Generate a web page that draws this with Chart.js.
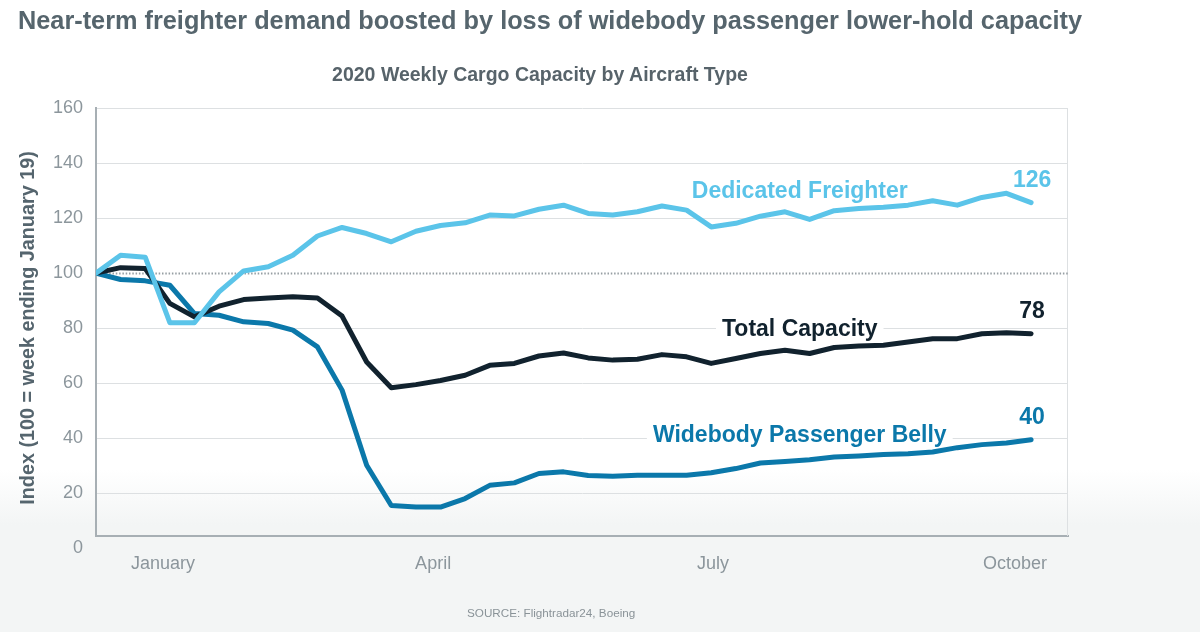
<!DOCTYPE html>
<html>
<head>
<meta charset="utf-8">
<title>2020 Weekly Cargo Capacity by Aircraft Type</title>
<script src="https://cdn.jsdelivr.net/npm/chart.js@4.4.1/dist/chart.umd.min.js"></script>
<style>
  html, body { margin: 0; padding: 0; }
  body {
    width: 1200px;
    height: 632px;
    overflow: hidden;
    font-family: "Liberation Sans", Arial, sans-serif;
    background: linear-gradient(to bottom, #ffffff 0px, #ffffff 470px, #f3f5f5 525px, #f3f5f5 632px);
  }
  #wrap { position: relative; width: 1200px; height: 632px; }
  #myChart { position: absolute; left: 0; top: 0; }
  .title {
    position: absolute; left: 18px; top: 8px;
    font-size: 25.3px; line-height: 25px; font-weight: bold;
    color: #56656d; white-space: nowrap;
  }
  .subtitle {
    position: absolute; left: 0; top: 64px; width: 1080px;
    text-align: center; font-size: 19.5px; line-height: 20px; font-weight: bold;
    color: #57636a; white-space: nowrap;
  }
  .source {
    position: absolute; left: 467px; top: 607px;
    font-size: 11.7px; line-height: 12px; color: #8a9398; white-space: nowrap;
  }
</style>
</head>
<body>
<div id="wrap">
  <canvas id="myChart" width="1200" height="632"></canvas>
  <div class="title">Near-term freighter demand boosted by loss of widebody passenger lower-hold capacity</div>
  <div class="subtitle">2020 Weekly Cargo Capacity by Aircraft Type</div>
  <div class="source">SOURCE: Flightradar24, Boeing</div>
</div>
<script>
// weekly index, 100 = week ending January 19 (39 weeks)
const dedicatedFreighter = [100, 106.5, 105.8, 82, 82, 93.2, 100.8, 102.3, 106.5, 113.5,
  116.6, 114.4, 111.4, 115.2, 117.3, 118.3, 121.1, 120.8, 123.2, 124.7,
  121.7, 121.1, 122.3, 124.4, 122.9, 116.8, 118.1, 120.7, 122.3, 119.5,
  122.7, 123.5, 123.9, 124.7, 126.3, 124.7, 127.5, 129, 125.6];
const totalCapacity = [100, 102, 101.7, 89, 84.1, 88, 90.4, 91, 91.4, 91,
  84.4, 67.7, 58.4, 59.5, 61, 62.9, 66.5, 67.2, 69.9, 71,
  69.2, 68.4, 68.7, 70.4, 69.6, 67.2, 69, 70.8, 72, 70.8,
  73, 73.5, 73.8, 75, 76.2, 76.2, 78, 78.3, 78];
const widebodyBelly = [100, 97.7, 97.2, 95.6, 85.3, 84.7, 82.3, 81.7, 79.3, 73.2,
  57.5, 30.2, 15.6, 15, 15, 18.1, 22.9, 23.8, 27.2, 27.8,
  26.5, 26.2, 26.6, 26.6, 26.6, 27.5, 29, 31, 31.6, 32.2,
  33.2, 33.6, 34.1, 34.4, 35, 36.6, 37.7, 38.3, 39.5];

const seriesNames = ['Dedicated Freighter', 'Total Capacity', 'Widebody Passenger Belly'];
const seriesColors = ['#5bc4e9', '#11222e', '#0b78aa'];

const monthLabels = ['January', 'April', 'July', 'October'];
const monthWeeks = [2.72, 13.7, 25.07, 37.35];
const yTicks = [0, 20, 40, 60, 80, 100, 120, 140, 160];
const baseline = 100;

// where the series names sit: [week, index value] of the text baseline
const nameAnchors = [[28.6, 127.3], [28.6, 77.1], [28.6, 38.5]];

const FONT = '"Liberation Sans", Arial, sans-serif';

const annotations = {
  id: 'annotations',
  beforeDatasetsDraw(chart) {
    const { ctx, chartArea: area, scales: { x, y } } = chart;
    ctx.save();
    // right frame
    ctx.strokeStyle = '#dde0e2';
    ctx.lineWidth = 1;
    ctx.beginPath();
    ctx.moveTo(area.right - 0.5, area.top);
    ctx.lineTo(area.right - 0.5, area.bottom);
    ctx.stroke();
    // dotted 100 line
    const yb = Math.round(y.getPixelForValue(baseline)) + 0.5;
    ctx.strokeStyle = '#979fa4';
    ctx.lineWidth = 1.8;
    ctx.setLineDash([1.5, 1.8]);
    ctx.beginPath();
    ctx.moveTo(area.left, yb);
    ctx.lineTo(area.right, yb);
    ctx.stroke();
    ctx.setLineDash([]);
    // series names with a white box behind them
    ctx.font = 'bold 23px ' + FONT;
    ctx.textAlign = 'center';
    ctx.textBaseline = 'alphabetic';
    seriesNames.forEach((name, i) => {
      const px = x.getPixelForValue(nameAnchors[i][0]);
      const py = y.getPixelForValue(nameAnchors[i][1]);
      const w = ctx.measureText(name).width;
      ctx.fillStyle = '#ffffff';
      ctx.fillRect(px - w / 2 - 6, py - 20, w + 12, 27);
      ctx.fillStyle = seriesColors[i];
      ctx.fillText(name, px, py);
    });
    ctx.restore();
  },
  afterDatasetsDraw(chart) {
    const { ctx, chartArea: area } = chart;
    ctx.save();
    // end values above last point
    ctx.font = 'bold 23px ' + FONT;
    ctx.textAlign = 'center';
    ctx.textBaseline = 'middle';
    chart.data.datasets.forEach((ds, i) => {
      const pts = chart.getDatasetMeta(i).data;
      const last = pts[pts.length - 1];
      ctx.fillStyle = seriesColors[i];
      ctx.fillText(String(Math.round(ds.data[ds.data.length - 1].y)), last.x + 1, last.y - 22);
    });
    // y axis title
    ctx.translate(29, (area.top + area.bottom) / 2 + 6);
    ctx.rotate(-Math.PI / 2);
    ctx.font = 'bold 19.8px ' + FONT;
    ctx.fillStyle = '#55656e';
    ctx.fillText('Index (100 = week ending January 19)', 0, 0);
    ctx.restore();
  }
};

const ctx = document.getElementById('myChart');
new Chart(ctx, {
  type: 'line',
  data: {
    datasets: seriesNames.map((name, i) => ({
      label: name,
      data: [dedicatedFreighter, totalCapacity, widebodyBelly][i].map((v, w) => ({ x: w, y: v })),
      borderColor: seriesColors[i],
      backgroundColor: seriesColors[i],
      borderWidth: 5,
      pointRadius: 0,
      tension: 0,
      fill: false,
      borderJoinStyle: 'round',
      borderCapStyle: 'round',
    })),
  },
  options: {
    responsive: false,
    animation: false,
    layout: { padding: { left: 0, top: 108, right: 132, bottom: 56 } },
    plugins: {
      legend: { display: false },
      tooltip: { enabled: false },
    },
    scales: {
      x: {
        type: 'linear',
        min: 0,
        max: 39.5,
        afterFit: (s) => { s.height = 40; },
        afterBuildTicks: (s) => { s.ticks = monthWeeks.map(v => ({ value: v })); },
        grid: { display: false, drawTicks: false },
        border: { display: true, color: '#a7afb4', width: 2 },
        ticks: {
          autoSkip: false,
          maxRotation: 0,
          padding: 17,
          color: '#8c969c',
          font: { family: FONT, size: 18 },
          callback: (v, i) => monthLabels[i],
        },
      },
      y: {
        min: 4.5,
        max: 160,
        afterFit: (s) => { s.width = 96; },
        afterBuildTicks: (s) => { s.ticks = yTicks.map(v => ({ value: v })); },
        grid: {
          drawTicks: false,
          lineWidth: 1,
          color: (c) => (c.tick && (c.tick.value === 0 || c.tick.value === baseline)) ? 'rgba(0,0,0,0)' : '#dde0e2',
        },
        border: { display: true, color: '#a7afb4', width: 2 },
        ticks: {
          autoSkip: false,
          padding: 13,
          color: '#8c969c',
          font: { family: FONT, size: 18 },
        },
      },
    },
  },
  plugins: [annotations],
});
</script>
</body>
</html>
